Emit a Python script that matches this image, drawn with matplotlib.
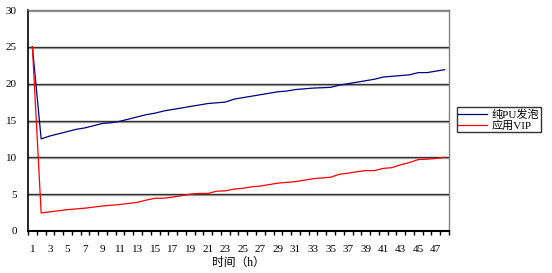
import matplotlib
matplotlib.use('Agg')
import matplotlib.pyplot as plt
import numpy as np

# 时间 (h)
hours = list(range(1, 49))
# 纯PU发泡
pu_foam = [25.0, 12.5, 12.9, 13.2, 13.5, 13.8, 14.0, 14.3, 14.6, 14.7,
           14.9, 15.2, 15.5, 15.8, 16.0, 16.3, 16.5, 16.7, 16.9, 17.1,
           17.3, 17.4, 17.5, 17.9, 18.1, 18.3, 18.5, 18.7, 18.9, 19.0,
           19.2, 19.3, 19.4, 19.45, 19.5, 19.8, 20.0, 20.2, 20.4, 20.6,
           20.9, 21.0, 21.1, 21.2, 21.5, 21.5, 21.7, 21.9]
# 应用VIP
vip = [25.0, 2.45, 2.6, 2.75, 2.9, 3.0, 3.1, 3.25, 3.4, 3.5,
       3.6, 3.75, 3.9, 4.2, 4.45, 4.45, 4.6, 4.8, 5.0, 5.1,
       5.1, 5.4, 5.45, 5.7, 5.8, 6.0, 6.1, 6.3, 6.5, 6.6,
       6.7, 6.9, 7.1, 7.2, 7.3, 7.7, 7.85, 8.05, 8.2, 8.2,
       8.5, 8.6, 9.0, 9.3, 9.7, 9.75, 9.85, 10.0]

FONT = ['Liberation Serif', 'Noto Sans CJK SC']
plt.rcParams['font.family'] = FONT

fig = plt.figure(figsize=(5.52, 2.73), dpi=100)
ax = fig.add_axes([28 / 552, 42 / 273, 421 / 552, 221 / 273])

# 网格线 (带浅灰阴影)
for v in range(5, 31, 5):
    ax.axhline(v - 0.14, color='#b0b0b0', lw=1.0, zorder=1)
    ax.axhline(v, color='#333333', lw=1.0, zorder=1)

ax.plot(hours, pu_foam, color='#000080', lw=0.9, label='纯PU发泡', zorder=3)
ax.plot(hours, vip, color='#ff0000', lw=0.9, label='应用VIP', zorder=3)

ax.set_xlim(0.5, 48.5)
ax.set_ylim(0, 30)
ax.set_yticks(range(0, 31, 5))
ax.set_xticks(hours[::2])
ax.set_xticks(np.arange(0.5, 49, 1), minor=True)
ax.tick_params(axis='x', which='major', length=0, pad=10, labelsize=8)
ax.tick_params(axis='x', which='minor', length=3, direction='out', width=1)
ax.tick_params(axis='y', length=0, pad=8, labelsize=8)

for s in ['top', 'right']:
    ax.spines[s].set_color('#808080')
    ax.spines[s].set_linewidth(1.0)
ax.spines['left'].set_color('black')
ax.spines['bottom'].set_color('black')
ax.spines['left'].set_linewidth(1.2)
ax.spines['bottom'].set_linewidth(1.5)

ax.set_xlabel('时间（h）', fontsize=8.5, labelpad=2)

leg = fig.legend(loc='upper left', bbox_to_anchor=(456.5 / 552, 1 - 107.5 / 273),
                 fontsize=8, frameon=True, fancybox=False, handlelength=2.6,
                 borderpad=0.15, labelspacing=0.05, handletextpad=0.4,
                 borderaxespad=0)
leg.get_frame().set_edgecolor('black')
leg.get_frame().set_linewidth(1.0)

fig.savefig('out.png', dpi=100)
